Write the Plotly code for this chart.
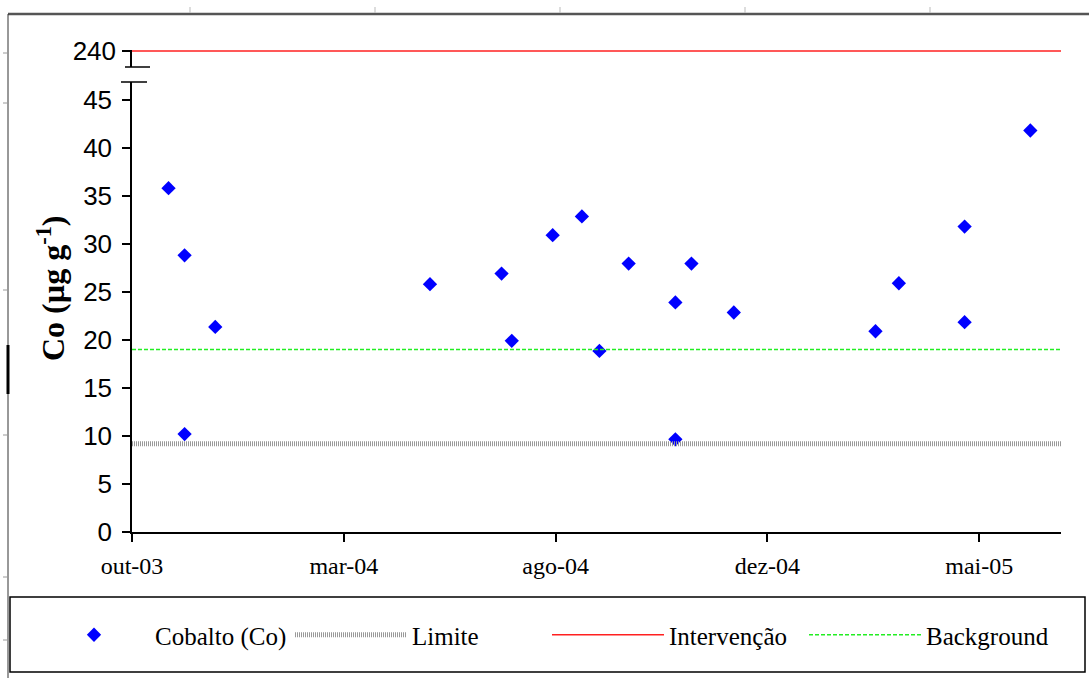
import plotly.graph_objects as go

# ---- data ----
sample_dates = ["2003-11-14", "2003-11-25", "2003-11-25", "2003-12-16", "2004-05-11",
                "2004-06-29", "2004-07-06", "2004-08-03", "2004-08-23", "2004-09-04",
                "2004-09-24", "2004-10-26", "2004-10-26", "2004-11-06", "2004-12-05",
                "2005-03-12", "2005-03-28", "2005-05-12", "2005-05-12", "2005-06-26"]
cobalto = [35.8, 28.8, 10.2, 21.35, 25.8,
           26.9, 19.9, 30.9, 32.85, 18.85,
           27.95, 23.9, 9.65, 27.95, 22.85,
           20.9, 25.9, 31.8, 21.85, 41.8]

limite = 9.2
background = 19.0
intervencao = 240

x_start = "2003-10-20"
x_end = "2005-07-17"
tick_dates = ["2003-10-20", "2004-03-13", "2004-08-05", "2004-12-28", "2005-05-22"]
tick_labels = ["out-03", "mar-04", "ago-04", "dez-04", "mai-05"]
y_ticks = [0, 5, 10, 15, 20, 25, 30, 35, 40, 45]
y2_ticks = [240]
y_title = "<b>Co (µg g<sup>-1</sup>)</b>"

# ---- layout geometry ----
W, H = 1089, 678
L, R, T, B = 132, 28, 50, 146
PW, PH = W - L - R, H - T - B


def px(xp):
    return (xp - L) / PW


def py(yp):
    return (H - B - yp) / PH


SERIF = "Liberation Serif, Times New Roman, serif"
SANS = "Liberation Sans, Arial, sans-serif"

fig = go.Figure()
fig.add_trace(go.Scatter(
    x=sample_dates, y=cobalto, mode="markers", name="Cobalto (Co)",
    marker=dict(symbol="diamond", size=11, color="#0000ff"),
    yaxis="y", cliponaxis=False))
fig.add_trace(go.Scatter(
    x=[x_start, x_end], y=[limite, limite], mode="lines", name="Limite",
    line=dict(color="#999999", width=5, dash="1px,1px"), yaxis="y"))
fig.add_trace(go.Scatter(
    x=[x_start, x_end], y=[intervencao, intervencao], mode="lines", name="Intervenção",
    line=dict(color="#ff2020", width=1.6), yaxis="y2", cliponaxis=False))
fig.add_trace(go.Scatter(
    x=[x_start, x_end], y=[background, background], mode="lines", name="Background",
    line=dict(color="#22ee22", width=1.6, dash="4px,2px"), yaxis="y"))

axis_common = dict(showline=True, linecolor="black", linewidth=1.5, showgrid=False,
                   zeroline=False, ticks="outside", ticklen=8, tickcolor="black",
                   tickwidth=1.5)

shapes = [
    # axis break caps
    dict(type="line", xref="paper", yref="paper", x0=px(125), x1=px(150), y0=py(67), y1=py(67),
         line=dict(color="black", width=1.5)),
    dict(type="line", xref="paper", yref="paper", x0=px(121), x1=px(147), y0=py(82), y1=py(82),
         line=dict(color="black", width=1.5)),
    # legend box
    dict(type="rect", xref="paper", yref="paper", x0=px(10), x1=px(1085), y0=py(672), y1=py(597),
         line=dict(color="black", width=1.5), fillcolor="rgba(0,0,0,0)"),
    # outer frame
    dict(type="line", xref="paper", yref="paper", x0=px(8), x1=px(1089), y0=py(14), y1=py(14),
         line=dict(color="#555555", width=2.5)),
    dict(type="line", xref="paper", yref="paper", x0=px(8), x1=px(8), y0=py(14), y1=py(678),
         line=dict(color="#333333", width=1)),
    dict(type="line", xref="paper", yref="paper", x0=px(8), x1=px(8), y0=py(345), y1=py(394),
         line=dict(color="black", width=3)),
]
for gx in [190, 375, 560, 745, 930]:
    shapes.append(dict(type="line", xref="paper", yref="paper", x0=px(gx), x1=px(gx),
                       y0=py(13), y1=py(7), line=dict(color="#bbbbbb", width=1)))
for gy in [53, 103, 290, 435, 577, 640]:
    shapes.append(dict(type="line", xref="paper", yref="paper", x0=px(3), x1=px(8),
                       y0=py(gy), y1=py(gy), line=dict(color="#999999", width=1)))

fig.update_layout(
    width=W, height=H,
    margin=dict(l=L, r=R, t=T, b=B, pad=0, autoexpand=False),
    paper_bgcolor="white", plot_bgcolor="white",
    showlegend=True,
    xaxis=dict(type="date", range=[x_start, x_end], tickvals=tick_dates, ticktext=tick_labels,
               tickfont=dict(family=SERIF, size=24, color="black"), anchor="y",
               ticklabelstandoff=3, **axis_common),
    yaxis=dict(domain=[0, py(82)], range=[0, 46.85], tickvals=y_ticks,
               tickfont=dict(family=SANS, size=26, color="black"), ticklabelstandoff=5,
               **axis_common),
    yaxis2=dict(domain=[py(67), 1], range=[237.5, 240.15], tickvals=y2_ticks, anchor="x",
                tickfont=dict(family=SANS, size=26, color="black"), ticklabelstandoff=1,
                **axis_common),
    legend=dict(orientation="h", x=px(33), y=py(635), xanchor="left", yanchor="middle",
                font=dict(family=SERIF, size=25, color="black"), bgcolor="rgba(0,0,0,0)",
                itemwidth=112, entrywidth=130, traceorder="normal"),
    annotations=[dict(text=y_title, textangle=-90, xref="paper", yref="paper",
                      x=px(51), y=py(288), xanchor="center", yanchor="middle",
                      showarrow=False, font=dict(family=SERIF, size=32, color="black"))],
    shapes=shapes,
)

fig.write_html("out.html", config={"displayModeBar": False},
               post_script="document.body.style.margin='0px';")
